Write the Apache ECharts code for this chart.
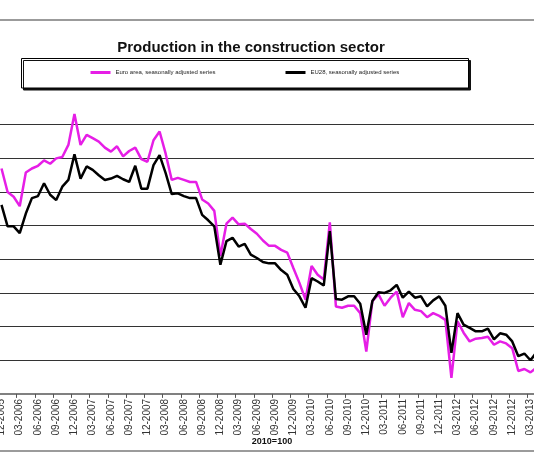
<!DOCTYPE html>
<html>
<head>
<meta charset="utf-8">
<script src="https://cdn.jsdelivr.net/npm/echarts@6/dist/echarts.min.js"></script>
<style>
html,body{margin:0;padding:0;background:#fff;}
#chart{width:534px;height:462px;}
</style>
</head>
<body>
<div id="chart"></div>
<script>
var titleText = 'Production in the construction sector';
var baseText = '2010=100';
var seriesNames = ['Euro area, seasonally adjusted series', 'EU28, seasonally adjusted series'];

var months = [
'12-2005',
'01-2006','02-2006','03-2006','04-2006','05-2006','06-2006','07-2006','08-2006','09-2006','10-2006','11-2006','12-2006',
'01-2007','02-2007','03-2007','04-2007','05-2007','06-2007','07-2007','08-2007','09-2007','10-2007','11-2007','12-2007',
'01-2008','02-2008','03-2008','04-2008','05-2008','06-2008','07-2008','08-2008','09-2008','10-2008','11-2008','12-2008',
'01-2009','02-2009','03-2009','04-2009','05-2009','06-2009','07-2009','08-2009','09-2009','10-2009','11-2009','12-2009',
'01-2010','02-2010','03-2010','04-2010','05-2010','06-2010','07-2010','08-2010','09-2010','10-2010','11-2010','12-2010',
'01-2011','02-2011','03-2011','04-2011','05-2011','06-2011','07-2011','08-2011','09-2011','10-2011','11-2011','12-2011',
'01-2012','02-2012','03-2012','04-2012','05-2012','06-2012','07-2012','08-2012','09-2012','10-2012','11-2012','12-2012',
'01-2013','02-2013','03-2013','04-2013'
];

var euroArea = [
113.5,
110.0,109.3,107.9,112.9,113.5,113.9,114.7,114.2,115.0,115.2,117.0,121.6,
117.0,118.5,118.0,117.5,116.6,116.0,116.8,115.3,116.1,116.6,114.9,114.5,
117.7,119.0,115.7,111.8,112.1,111.8,111.5,111.5,108.9,108.3,107.2,100.5,
105.3,106.2,105.2,105.3,104.5,103.8,102.8,102.0,102.0,101.4,101.0,98.7,
96.5,94.0,99.0,97.7,97.0,105.5,93.0,92.8,93.1,93.1,92.0,86.3,
93.8,94.8,93.1,94.3,95.2,91.4,93.5,92.5,92.3,91.4,92.0,91.6,
91.0,82.4,90.8,89.1,87.8,88.2,88.3,88.5,87.3,87.8,87.5,86.8,
83.4,83.7,83.2,83.9
];

var eu28 = [
108.1,
104.9,104.9,103.9,106.8,109.1,109.4,111.3,109.6,108.8,110.8,111.8,115.6,
112.0,113.8,113.3,112.5,111.8,112.0,112.4,111.9,111.5,113.9,110.5,110.5,
114.0,115.5,112.8,109.7,109.8,109.4,109.1,109.1,106.6,105.8,104.9,99.2,
102.7,103.2,101.9,102.3,100.7,100.2,99.6,99.4,99.4,98.4,97.7,95.6,
94.5,92.8,97.2,96.7,96.1,104.2,94.1,94.0,94.5,94.5,93.4,88.8,
93.8,95.1,95.0,95.4,96.2,94.3,95.2,94.3,94.5,93.0,93.9,94.5,
93.1,86.1,92.0,90.3,89.8,89.3,89.3,89.7,88.1,89.0,88.8,87.8,
85.6,86.0,85.0,86.2
];

var yMin = 80, yMax = 125, yStep = 5;

var chart = echarts.init(document.getElementById('chart'), null, {renderer: 'canvas'});
var font = 'Liberation Sans, Arial, sans-serif';

chart.setOption({
  animation: false,
  backgroundColor: '#ffffff',
  title: {
    text: titleText,
    left: 246,
    top: 35,
    textAlign: 'center',
    textStyle: {fontFamily: font, fontSize: 15, fontWeight: 'bold', color: '#111'}
  },
  graphic: [
    {type: 'line', shape: {x1: 0, y1: 20, x2: 534, y2: 20}, style: {stroke: '#7a7a7a', lineWidth: 1.5}, z: -1},
    {type: 'line', shape: {x1: 0, y1: 451, x2: 534, y2: 451}, style: {stroke: '#7a7a7a', lineWidth: 1.5}, z: -1},
    {type: 'rect', shape: {x: 21.5, y: 58.5, width: 447, height: 29.5},
     style: {fill: '#fff', stroke: '#000', lineWidth: 1, shadowColor: '#111', shadowOffsetX: 2, shadowOffsetY: 2, shadowBlur: 0}, z: -1},
    {type: 'text', x: 272, y: 437,
     style: {text: baseText, font: 'bold 9px ' + font, fill: '#111', textAlign: 'center'}}
  ],
  legend: [
    {data: [seriesNames[0]], left: 90.5, top: 69.5, padding: 0, icon: 'rect', itemWidth: 20, itemHeight: 3,
     textStyle: {fontFamily: font, fontSize: 6, color: '#222'}},
    {data: [seriesNames[1]], left: 285.5, top: 69.5, padding: 0, icon: 'rect', itemWidth: 20, itemHeight: 3,
     textStyle: {fontFamily: font, fontSize: 6, color: '#222'}}
  ],
  grid: {left: -1.54, top: 91.1, width: 541.12, height: 302.8, containLabel: false, outerBoundsMode: 'none'},
  xAxis: {
    type: 'category',
    data: months,
    boundaryGap: true,
    axisLine: {show: true, lineStyle: {color: '#808080', width: 2}},
    axisTick: {show: true, interval: 2, length: 4, lineStyle: {color: '#555', width: 1}},
    axisLabel: {interval: 2, rotate: 90, margin: 5, fontFamily: font, fontSize: 10, color: '#333'},
    splitLine: {show: false}
  },
  yAxis: {
    type: 'value',
    min: yMin, max: yMax, interval: yStep,
    axisLine: {show: false},
    axisTick: {show: false},
    axisLabel: {show: false},
    splitLine: {show: true, showMaxLine: false, lineStyle: {color: '#333', width: 1}}
  },
  series: [
    {name: seriesNames[0], type: 'line', data: euroArea, showSymbol: false, symbol: 'none',
     lineStyle: {color: '#e61ee6', width: 2.5}, itemStyle: {color: '#e61ee6'}},
    {name: seriesNames[1], type: 'line', data: eu28, showSymbol: false, symbol: 'none',
     lineStyle: {color: '#000', width: 2.5}, itemStyle: {color: '#000'}}
  ]
});
</script>
</body>
</html>
